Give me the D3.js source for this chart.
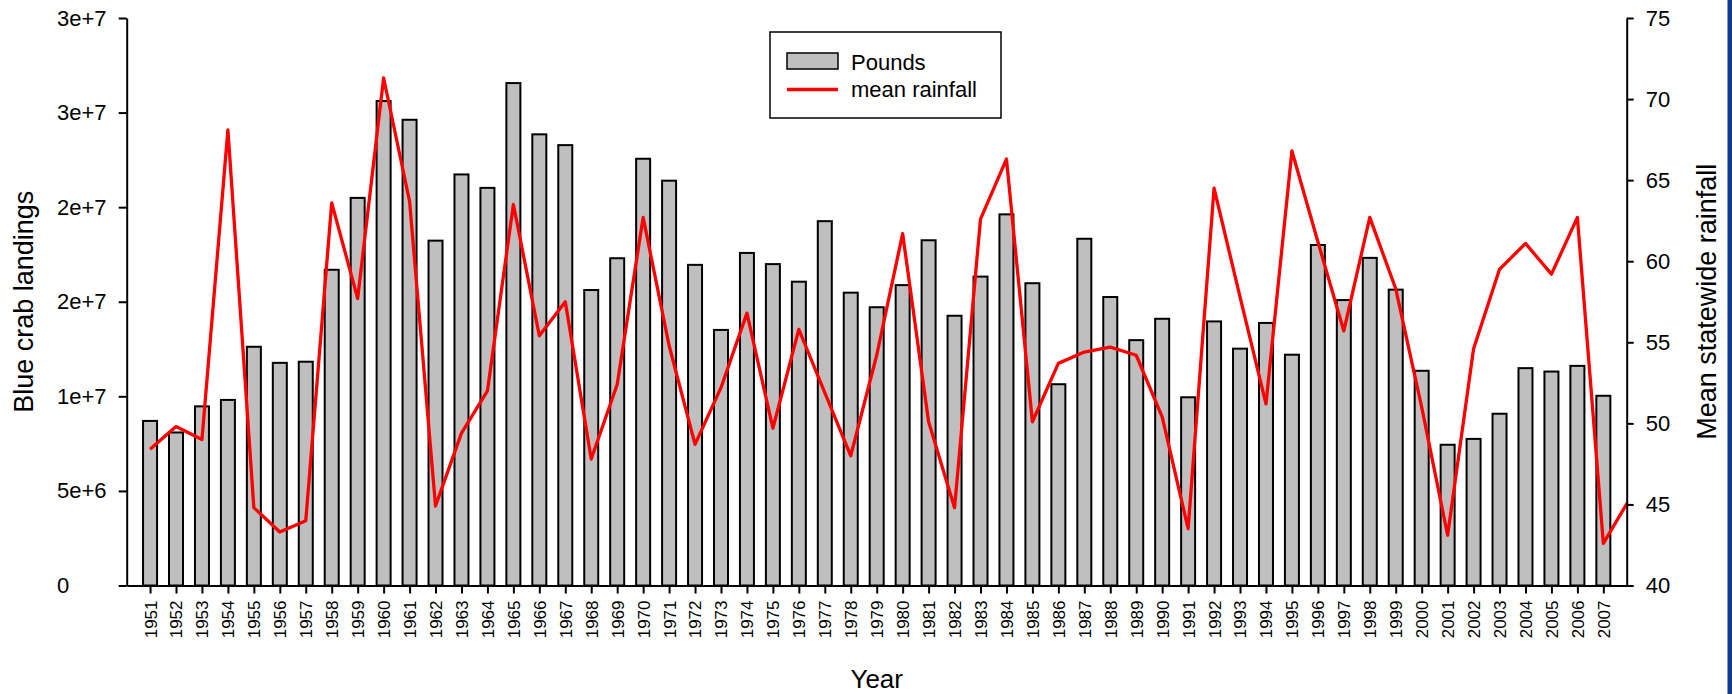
<!DOCTYPE html>
<html>
<head>
<meta charset="utf-8">
<script src="https://cdn.jsdelivr.net/npm/d3@7"></script>
<style>
  html, body { margin: 0; padding: 0; background: #fff; }
  svg { display: block; font-family: "Liberation Sans", Arial, sans-serif; }
</style>
</head>
<body>
<div id="chart"></div>
<script>
// Data
//-----------
var years = [1951, 1952, 1953, 1954, 1955, 1956, 1957, 1958, 1959, 1960,
	1961, 1962, 1963, 1964, 1965, 1966, 1967, 1968, 1969, 1970,
	1971, 1972, 1973, 1974, 1975, 1976, 1977, 1978, 1979, 1980,
	1981, 1982, 1983, 1984, 1985, 1986, 1987, 1988, 1989, 1990,
	1991, 1992, 1993, 1994, 1995, 1996, 1997, 1998, 1999, 2000,
	2001, 2002, 2003, 2004, 2005, 2006, 2007];

// blue crab landings, pounds
var pounds = [8.70e6, 8.09e6, 9.47e6, 9.81e6, 12.62e6, 11.77e6, 11.83e6, 16.69e6, 20.49e6, 25.61e6,
	24.62e6, 18.23e6, 21.73e6, 21.02e6, 26.56e6, 23.85e6, 23.28e6, 15.62e6, 17.30e6, 22.56e6,
	21.40e6, 16.95e6, 13.51e6, 17.58e6, 16.99e6, 16.06e6, 19.26e6, 15.48e6, 14.71e6, 15.88e6,
	18.25e6, 14.26e6, 16.33e6, 19.62e6, 15.98e6, 10.64e6, 18.33e6, 15.25e6, 12.97e6, 14.10e6,
	9.95e6, 13.96e6, 12.52e6, 13.88e6, 12.20e6, 18.00e6, 15.09e6, 17.32e6, 15.64e6, 11.35e6,
	7.44e6, 7.75e6, 9.08e6, 11.49e6, 11.31e6, 11.61e6, 10.03e6];

// mean statewide rainfall (the series runs one year past the bars, cut off at the axis)
var rainYears = years.concat([2008]);
var rainfall = [48.4, 49.8, 49.0, 68.1, 44.8, 43.3, 44.0, 63.6, 57.7, 71.3,
	63.7, 44.9, 49.4, 52.0, 63.5, 55.4, 57.5, 47.8, 52.4, 62.7,
	54.8, 48.7, 52.2, 56.8, 49.7, 55.8, 51.9, 48.0, 54.2, 61.7,
	50.1, 44.8, 62.6, 66.3, 50.1, 53.7, 54.4, 54.7, 54.2, 50.4,
	43.5, 64.5, 57.8, 51.2, 66.8, 61.2, 55.7, 62.7, 58.3, 51.0,
	43.1, 54.6, 59.5, 61.1, 59.2, 62.7, 42.6, 45.3];

var leftTicks = [0, 5e6, 1e7, 1.5e7, 2e7, 2.5e7, 3e7];
var leftTickLabels = ["0", "5e+6", "1e+7", "2e+7", "2e+7", "3e+7", "3e+7"];
var rightTicks = [40, 45, 50, 55, 60, 65, 70, 75];

// Visualization attributes
//-----------
var w = 1732;
var h = 694;
var x0 = 126.7, x1 = 1626.7;
var yTop = 18, yBase = 585.5;
var barW = 14;
var font = "'Liberation Sans', Arial, sans-serif";

// Scales
//-----------
var xScale = d3.scaleLinear([1950.1, 2007.9], [x0, x1]);
var yLeft = d3.scaleLinear([0, 3e7], [yBase, yTop]);
var yRight = d3.scaleLinear([40, 75], [yBase, yTop]);

// SVG
//-----------
var svg = d3.select("#chart")
	.append("svg")
	.attr("width", w)
	.attr("height", h);

svg.append("rect")
	.attr("width", w).attr("height", h)
	.attr("fill", "#fff");

// blue strip at the right edge of the slide
svg.append("rect")
	.attr("x", 1727.5).attr("y", 0)
	.attr("width", 4.5).attr("height", h)
	.attr("fill", "#0d3b92");

svg.append("clipPath")
	.attr("id", "plotclip")
	.append("rect")
	.attr("x", x0).attr("y", 0)
	.attr("width", x1 - x0).attr("height", h);

// Bars
//-----------
svg.append("g").selectAll("rect")
	.data(pounds)
	.enter()
	.append("rect")
	.attr("x", function(d, i) { return xScale(years[i]) - barW / 2; })
	.attr("y", function(d) { return yLeft(d); })
	.attr("width", barW)
	.attr("height", function(d) { return yBase - yLeft(d); })
	.attr("fill", "#bfbfbf")
	.attr("stroke", "#000")
	.attr("stroke-width", 2);

// Rainfall line
//-----------
var line = d3.line()
	.x(function(d, i) { return xScale(rainYears[i]); })
	.y(function(d) { return yRight(d); });

svg.append("path")
	.datum(rainfall)
	.attr("d", line)
	.attr("clip-path", "url(#plotclip)")
	.attr("fill", "none")
	.attr("stroke", "#ff0000")
	.attr("stroke-width", 3.3)
	.attr("stroke-linejoin", "round");

// Axes
//-----------
function styleAxis(g, size) {
	g.select(".domain").attr("stroke-width", 2);
	g.selectAll(".tick line").attr("stroke-width", 2);
	g.selectAll(".tick text")
		.attr("font-family", font)
		.attr("font-size", size)
		.attr("fill", "#000");
}

var leftAxis = svg.append("g")
	.attr("transform", "translate(" + x0 + ",0)")
	.call(d3.axisLeft(yLeft)
		.tickValues(leftTicks)
		.tickFormat(function(d, i) { return leftTickLabels[i]; })
		.tickSize(8).tickSizeOuter(0));
styleAxis(leftAxis, "22px");
// labels sit left-aligned in the reference
leftAxis.selectAll(".tick text")
	.attr("text-anchor", "start")
	.attr("x", 57 - x0);

var rightAxis = svg.append("g")
	.attr("transform", "translate(" + x1 + ",0)")
	.call(d3.axisRight(yRight)
		.tickValues(rightTicks)
		.tickSize(7).tickSizeOuter(0).tickPadding(12));
styleAxis(rightAxis, "22px");

var bottomAxis = svg.append("g")
	.attr("transform", "translate(0," + yBase + ")")
	.call(d3.axisBottom(xScale)
		.tickValues(years)
		.tickFormat(function(d) { return d; })
		.tickSize(8).tickSizeOuter(0));
styleAxis(bottomAxis, "17px");
bottomAxis.selectAll(".tick text")
	.attr("transform", "rotate(-90)")
	.attr("text-anchor", "end")
	.attr("x", -15)
	.attr("y", 0)
	.attr("dy", "0.35em");

// Titles
//-----------
svg.append("text")
	.text("Blue crab landings")
	.attr("text-anchor", "middle")
	.attr("transform", "translate(33," + (yTop + yBase) / 2 + ") rotate(-90)")
	.attr("font-family", font)
	.attr("font-size", "27px");

svg.append("text")
	.text("Mean statewide rainfall")
	.attr("text-anchor", "middle")
	.attr("transform", "translate(1716," + (yTop + yBase) / 2 + ") rotate(-90)")
	.attr("font-family", font)
	.attr("font-size", "27px");

svg.append("text")
	.text("Year")
	.attr("text-anchor", "middle")
	.attr("x", (x0 + x1) / 2)
	.attr("y", 688)
	.attr("font-family", font)
	.attr("font-size", "26px");

// Legend
//-----------
var legend = svg.append("g");
legend.append("rect")
	.attr("x", 770).attr("y", 32)
	.attr("width", 231).attr("height", 86)
	.attr("fill", "#fff")
	.attr("stroke", "#000")
	.attr("stroke-width", 1.5);
legend.append("rect")
	.attr("x", 787).attr("y", 53)
	.attr("width", 51).attr("height", 16)
	.attr("fill", "#bfbfbf")
	.attr("stroke", "#000")
	.attr("stroke-width", 1.5);
legend.append("line")
	.attr("x1", 787).attr("x2", 838)
	.attr("y1", 89.5).attr("y2", 89.5)
	.attr("stroke", "#ff0000")
	.attr("stroke-width", 3.5);
legend.append("text")
	.text("Pounds")
	.attr("x", 851).attr("y", 70)
	.attr("font-family", font)
	.attr("font-size", "22px");
legend.append("text")
	.text("mean rainfall")
	.attr("x", 851).attr("y", 97)
	.attr("font-family", font)
	.attr("font-size", "22px");
</script>
</body>
</html>
